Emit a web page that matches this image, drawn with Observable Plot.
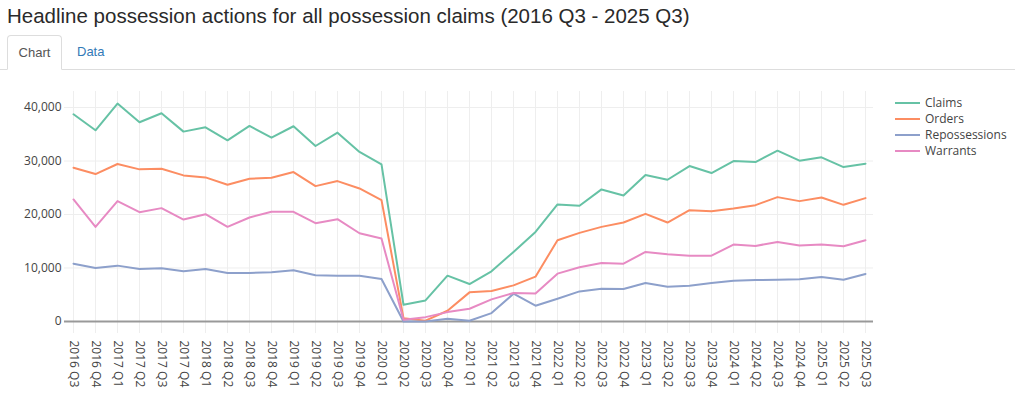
<!DOCTYPE html>
<html>
<head>
<meta charset="utf-8">
<script src="https://cdn.jsdelivr.net/npm/d3@7"></script>
<script src="https://cdn.jsdelivr.net/npm/@observablehq/plot@0.6"></script>
<style>
  html, body { margin: 0; padding: 0; background: #fff; }
  body { width: 1024px; height: 410px; overflow: hidden; position: relative; font-family: "Liberation Sans", Arial, sans-serif; }
  h1 { position: absolute; left: 7px; top: 4px; margin: 0; font-size: 20.5px; font-weight: normal; color: #2a2a2a; white-space: nowrap; }
  .tabs { position: absolute; left: 0; top: 35px; width: 1015px; height: 34px; border-bottom: 1px solid #ddd; }
  .tab { position: absolute; top: 0; height: 34px; line-height: 34px; font-size: 13px; }
  .tab.active { left: 7px; width: 55px; box-sizing: border-box; border: 1px solid #ddd; border-bottom: 1px solid #fff; border-radius: 4px 4px 0 0; background: #fff; color: #555; text-align: center; height: 35px; }
  .tab.link { left: 77px; color: #337ab7; }
  #chart { position: absolute; left: 0; top: 70px; }
  .legend { position: absolute; left: 895px; top: 95px; font-family: "Open Sans", sans-serif; font-size: 12px; color: #444; }
  .legend div { height: 16px; line-height: 16px; display: flex; align-items: center; white-space: nowrap; }
  .legend span.sw { display: inline-block; width: 25px; height: 2px; margin-right: 5px; }
</style>
</head>
<body>
<h1>Headline possession actions for all possession claims (2016 Q3 - 2025 Q3)</h1>
<div class="tabs"><div class="tab active">Chart</div><div class="tab link">Data</div></div>
<div id="chart"></div>
<div class="legend" id="legend"></div>
<script>
const quarters = ["2016 Q3","2016 Q4","2017 Q1","2017 Q2","2017 Q3","2017 Q4","2018 Q1","2018 Q2","2018 Q3","2018 Q4","2019 Q1","2019 Q2","2019 Q3","2019 Q4","2020 Q1","2020 Q2","2020 Q3","2020 Q4","2021 Q1","2021 Q2","2021 Q3","2021 Q4","2022 Q1","2022 Q2","2022 Q3","2022 Q4","2023 Q1","2023 Q2","2023 Q3","2023 Q4","2024 Q1","2024 Q2","2024 Q3","2024 Q4","2025 Q1","2025 Q2","2025 Q3"];
const seriesNames = ["Claims","Orders","Repossessions","Warrants"];
const seriesColors = ["#66c2a5","#fc8d62","#8da0cb","#e78ac3"];
const claims = [38750,35750,40750,37250,38940,35500,36310,33875,36560,34375,36500,32810,35310,31690,29375,3125,3940,8560,7000,9375,13000,16750,21875,21625,24690,23560,27375,26500,29060,27750,30000,29810,31940,30060,30690,28875,29500];
const orders = [28750,27560,29440,28440,28560,27310,26940,25560,26690,26875,27940,25310,26250,24875,22690,625,150,2000,5440,5690,6750,8375,15190,16560,17690,18500,20125,18500,20810,20625,21125,21750,23250,22500,23190,21810,23060];
const repossessions = [10810,10000,10440,9810,9940,9375,9810,9060,9060,9190,9560,8625,8560,8560,7940,0,0,500,125,1560,5190,2940,4250,5625,6125,6060,7190,6500,6690,7190,7625,7750,7810,7875,8310,7810,8875];
const warrants = [22810,17690,22500,20440,21190,19060,20060,17690,19440,20500,20500,18375,19125,16500,15500,310,810,1750,2375,4125,5310,5250,8940,10125,10940,10810,13000,12560,12310,12310,14375,14125,14875,14190,14375,14060,15190];
const yTicks = [0,10000,20000,30000,40000];

const valuesBySeries = [claims, orders, repossessions, warrants];
const data = [];
seriesNames.forEach((s, i) => quarters.forEach((q, j) => data.push({series: s, quarter: q, value: valuesBySeries[i][j]})));

const fmt = d3.format(",");
const chart = Plot.plot({
  width: 1024,
  height: 340,
  marginLeft: 64,
  marginRight: 151,
  marginTop: 21,
  marginBottom: 77,
  style: {fontFamily: "'Open Sans', sans-serif", fontSize: "12px", color: "#444", background: "#fff"},
  x: {type: "point", domain: quarters, padding: 0, label: null, tickRotate: 90, tickSize: 0, tickPadding: 7},
  y: {domain: [-2250, 43000], ticks: yTicks, tickFormat: fmt, tickSize: 0, tickPadding: 3, label: null},
  color: {domain: seriesNames, range: seriesColors},
  marks: [
    Plot.ruleX(quarters, {stroke: "#eee", strokeWidth: 1}),
    Plot.ruleY(yTicks.filter(d => d !== 0), {stroke: "#eee", strokeWidth: 1}),
    Plot.ruleY([0], {stroke: "#999", strokeWidth: 2}),
    Plot.line(data, {x: "quarter", y: "value", z: "series", stroke: "series", strokeWidth: 2, strokeLinejoin: "round"}),
    Plot.axisY({ticks: yTicks, tickFormat: fmt, tickSize: 0, tickPadding: 3, fill: "#444"}),
    Plot.axisX({tickRotate: 90, tickSize: 0, tickPadding: 7, fill: "#444"})
  ]
});
document.getElementById("chart").appendChild(chart);

const legend = document.getElementById("legend");
seriesNames.forEach((s, i) => {
  const row = document.createElement("div");
  row.innerHTML = `<span class="sw" style="background:${seriesColors[i]}"></span>${s}`;
  legend.appendChild(row);
});
</script>
</body>
</html>
